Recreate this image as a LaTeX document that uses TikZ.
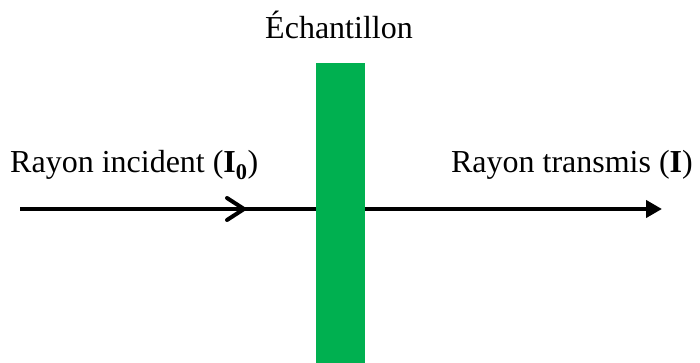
\documentclass[tikz,border=0pt]{standalone}
\usepackage{fontspec}
\setmainfont{Liberation Serif}
\usetikzlibrary{arrows.meta,decorations.markings}
\definecolor{samplegreen}{HTML}{00B050}
\tikzset{
  lbl/.style={inner sep=0pt, font=\fontsize{32}{37}\selectfont},
  beam/.style={line width=4pt, -{Triangle[length=16pt,width=17pt]},
    postaction={decorate},
    decoration={markings, mark=at position 224pt with {\draw[line width=4pt, line cap=round, line join=round, -] (-17pt,11pt) -- (0pt,0pt) -- (-17pt,-11pt);}}},
  samplebox/.style={rectangle, fill=samplegreen, draw=none, minimum width=49pt, minimum height=300pt, inner sep=0pt}
}
\begin{document}
\begin{tikzpicture}[x=1pt,y=-1pt]
\useasboundingbox (0,0) rectangle (700,363);
\coordinate (src) at (20,209);
\coordinate (dst) at (662,209);
\draw[beam] (src) -- (dst);
\node[samplebox] (sample) at (340.5,213) {};
\node[lbl, anchor=base] (title) at (339,39) {Échantillon};
\node[lbl, anchor=base west] (inc) at (10,173) {Rayon incident (\textbf{I\textsubscript{0}})};
\node[lbl, anchor=base east] (trans) at (693,173) {Rayon transmis (\textbf{I})};
\end{tikzpicture}
\end{document}
